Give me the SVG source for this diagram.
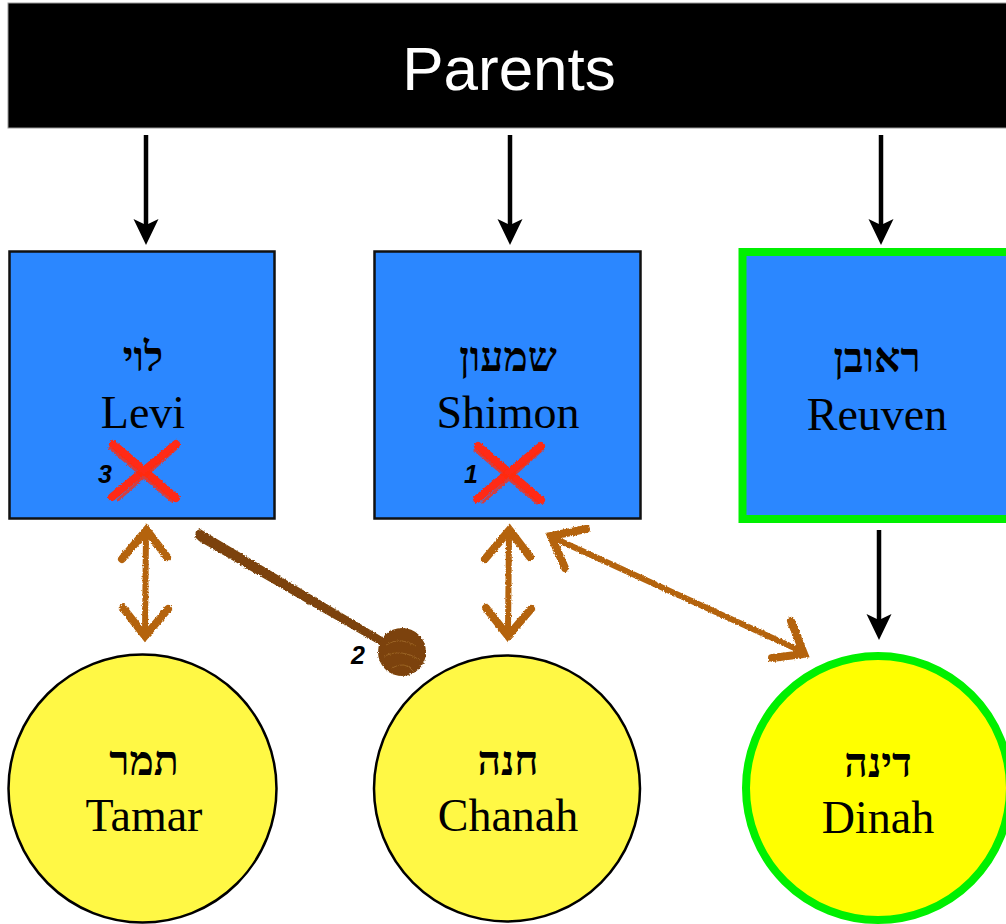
<svg xmlns="http://www.w3.org/2000/svg" width="1006" height="924" viewBox="0 0 1006 924">
  <style>
    .box { fill: #2b87ff; stroke: #111; stroke-width: 2.5; }
    .girl { fill: #fff845; stroke: #000; stroke-width: 2.5; }
    .chosen { stroke: #00f000; stroke-width: 8; }
    .name { font-family: "Liberation Serif", "Times New Roman", serif; font-size: 46px; fill: #000; text-anchor: middle; }
    .heb { font-family: "Liberation Serif", "DejaVu Serif", "Noto Sans", serif; font-size: 41px; font-weight: bold; fill: #000; text-anchor: middle; }
    .num { font-family: "Liberation Sans", Arial, sans-serif; font-size: 25px; font-weight: bold; font-style: italic; fill: #000; text-anchor: middle; }
    .down { stroke: #000; stroke-width: 4.5; fill: none; }
    .head { fill: #000; }
    .brush { stroke: #b4630b; fill: none; stroke-linecap: round; }
    .cross { stroke: #ff2a12; fill: none; stroke-linecap: round; }
  </style>
  <defs>
    <filter id="rough" x="-10%" y="-10%" width="120%" height="120%">
      <feTurbulence type="fractalNoise" baseFrequency="0.6" numOctaves="2" seed="3" result="n"/>
      <feDisplacementMap in="SourceGraphic" in2="n" scale="3" xChannelSelector="R" yChannelSelector="G"/>
    </filter>
  </defs>

  <rect width="1006" height="924" fill="#fff"/>

  <!-- header -->
  <g id="parents">
    <rect x="8" y="3" width="1004" height="125" fill="#000" stroke="#999" stroke-width="1"/>
    <text x="509" y="90" font-family="'Liberation Sans', Arial, sans-serif" font-size="62" fill="#fff" text-anchor="middle">Parents</text>
  </g>

  <!-- connectors -->
  <g id="connectors">
    <line class="down" x1="146" y1="135" x2="146" y2="226"/>
    <path class="head" d="M133.5,219 L146,225 L158.5,219 L146,245 Z"/>
    <line class="down" x1="510" y1="135" x2="510" y2="226"/>
    <path class="head" d="M497.5,219 L510,225 L522.5,219 L510,245 Z"/>
    <line class="down" x1="881" y1="135" x2="881" y2="226"/>
    <path class="head" d="M868.5,219 L881,225 L893.5,219 L881,245 Z"/>
    <line class="down" x1="879" y1="530" x2="879" y2="621"/>
    <path class="head" d="M866.5,614 L879,620 L891.5,614 L879,640 Z"/>

    <g filter="url(#rough)">
      <!-- Levi <-> Tamar -->
      <g class="brush">
        <path d="M146,534 L145,632" stroke-width="6"/>
        <path d="M122,559 L146.5,530 L167,557" stroke-width="8" stroke-linejoin="miter"/>
        <path d="M123,608 L145,636 L168,609" stroke-width="8" stroke-linejoin="miter"/>
      </g>
      <!-- Shimon <-> Chanah -->
      <g class="brush">
        <path d="M509,534 L508,632" stroke-width="6"/>
        <path d="M485,559 L509.5,530 L530,557" stroke-width="8" stroke-linejoin="miter"/>
        <path d="M486,608 L508,636 L531,609" stroke-width="8" stroke-linejoin="miter"/>
      </g>
      <!-- Shimon <-> Dinah -->
      <g class="brush">
        <path d="M556,539 L801,651" stroke-width="6"/>
        <path d="M586,529 L551,536 L565,568" stroke-width="8" stroke-linejoin="miter"/>
        <path d="M791,621 L804,654 L772,658" stroke-width="8" stroke-linejoin="miter"/>
      </g>
      <!-- Levi to the ball: tapered stroke -->
      <path d="M196,531 L200,529 L389,641 L385,648 L199,541 L195,537 Z" fill="#7b4208"/>
      <circle cx="402" cy="652" r="24" fill="#7b4208"/>
      <path d="M386,645 Q400,636 416,646 M384,656 Q402,648 420,660 M392,668 Q405,660 414,672" stroke="#9a6226" stroke-width="1" fill="none"/>
    </g>
    <text class="num" x="358" y="664">2</text>
  </g>

  <!-- Levi -->
  <g id="levi">
    <rect class="box" x="9.5" y="251.5" width="265" height="267"/>
    <text class="heb" x="143" y="371">לוי</text>
    <text class="name" x="143" y="428">Levi</text>
    <g filter="url(#rough)">
      <path class="cross" d="M113,444 L176,498" stroke-width="8"/>
      <path class="cross" d="M176,444 L112,497" stroke-width="8"/>
      <path class="cross" d="M110,448 L172,501 M178,447 L118,500" stroke-width="3" opacity="0.8"/>
    </g>
    <text class="num" x="105" y="483">3</text>
  </g>

  <!-- Shimon -->
  <g id="shimon">
    <rect class="box" x="374.5" y="251.5" width="266" height="267"/>
    <text class="heb" x="508" y="371">שמעון</text>
    <text class="name" x="508" y="428">Shimon</text>
    <g filter="url(#rough)">
      <path class="cross" d="M478,446 L541,500" stroke-width="8"/>
      <path class="cross" d="M541,446 L477,499" stroke-width="8"/>
      <path class="cross" d="M475,450 L537,503 M543,449 L483,502" stroke-width="3" opacity="0.8"/>
    </g>
    <text class="num" x="471" y="483">1</text>
  </g>

  <!-- Reuven -->
  <g id="reuven">
    <rect class="box chosen" x="742.5" y="252" width="270" height="267"/>
    <text class="heb" x="877" y="372">ראובן</text>
    <text class="name" x="877" y="430">Reuven</text>
  </g>

  <!-- Tamar -->
  <g id="tamar">
    <circle class="girl" cx="142.5" cy="788.5" r="134"/>
    <text class="heb" x="144" y="775">תמר</text>
    <text class="name" x="144" y="831">Tamar</text>
  </g>

  <!-- Chanah -->
  <g id="chanah">
    <circle class="girl" cx="507" cy="788.5" r="133"/>
    <text class="heb" x="508" y="775">חנה</text>
    <text class="name" x="508" y="831">Chanah</text>
  </g>

  <!-- Dinah -->
  <g id="dinah">
    <circle class="girl chosen" cx="878" cy="788" r="132" style="fill:#ffff00"/>
    <text class="heb" x="878" y="777">דינה</text>
    <text class="name" x="878" y="833">Dinah</text>
  </g>
</svg>
